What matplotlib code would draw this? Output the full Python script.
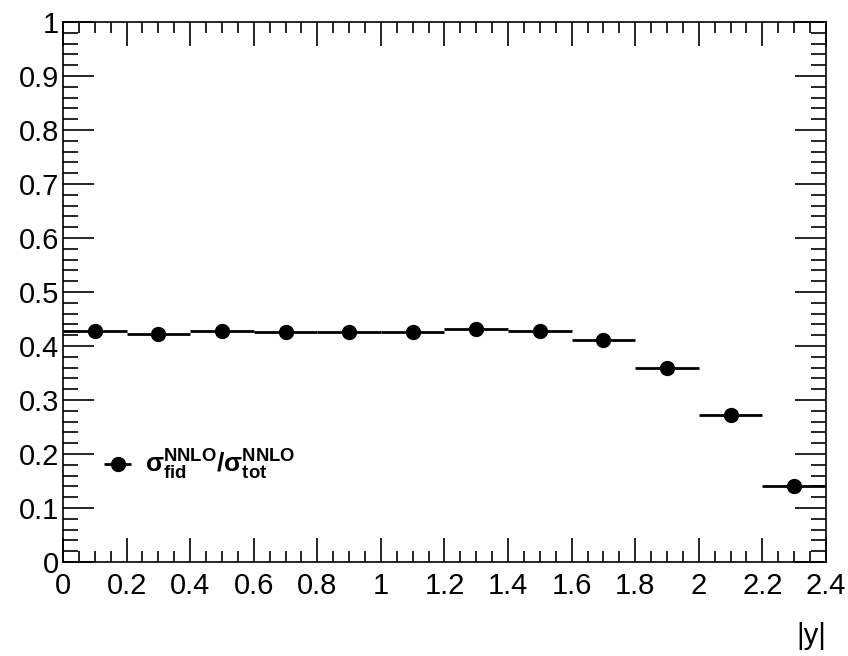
import matplotlib
matplotlib.use("Agg")
import matplotlib.pyplot as plt
from matplotlib.ticker import MultipleLocator

plt.rcParams['font.family'] = ['Liberation Sans', 'DejaVu Sans']
plt.rcParams['mathtext.fontset'] = 'custom'
plt.rcParams['mathtext.rm'] = 'Liberation Sans'
plt.rcParams['mathtext.it'] = 'Liberation Sans'
plt.rcParams['mathtext.bf'] = 'Liberation Sans:bold'

bin_centers = [0.1, 0.3, 0.5, 0.7, 0.9, 1.1, 1.3, 1.5, 1.7, 1.9, 2.1, 2.3]
bin_halfwidth = [0.1] * 12
ratio = [0.427, 0.422, 0.427, 0.425, 0.425, 0.425, 0.431, 0.427, 0.411, 0.360, 0.273, 0.140]
legend_label = r'$\mathbf{\sigma^{NNLO}_{fid}/\sigma^{NNLO}_{tot}}$'

fig = plt.figure(figsize=(8.48, 6.56), dpi=100)
ax = fig.add_axes([0.0743, 0.1433, 0.8997, 0.8232])

ax.errorbar(bin_centers, ratio, xerr=bin_halfwidth, fmt='o', color='black',
            markersize=10, elinewidth=2, capsize=0, label=legend_label)

ax.set_xlim(0, 2.4)
ax.set_ylim(0, 1)
ax.xaxis.set_major_locator(MultipleLocator(0.2))
ax.xaxis.set_minor_locator(MultipleLocator(0.05))
ax.yaxis.set_major_locator(MultipleLocator(0.1))
ax.yaxis.set_minor_locator(MultipleLocator(0.02))

def fmt(v, pos):
    s = ('%.1f' % v)
    if s.endswith('.0'):
        s = s[:-2]
    return s
ax.xaxis.set_major_formatter(plt.FuncFormatter(fmt))
ax.yaxis.set_major_formatter(plt.FuncFormatter(fmt))

ax.tick_params(axis='both', which='both', direction='in', top=True, right=True,
               labelsize=21, width=1.2)
ax.tick_params(axis='y', which='major', length=22, pad=3)
ax.tick_params(axis='y', which='minor', length=11)
ax.tick_params(axis='x', which='major', length=17, pad=7)
ax.tick_params(axis='x', which='minor', length=8)
for sp in ax.spines.values():
    sp.set_linewidth(1.2)

ax.set_xlabel('|y|', fontsize=21, loc='right', labelpad=16)

leg = ax.legend(loc='upper left', bbox_to_anchor=(0.03, 0.235), frameon=False,
                fontsize=19, handlelength=1.4, handletextpad=0.35, borderpad=0)

fig.savefig('out.png', dpi=100)
